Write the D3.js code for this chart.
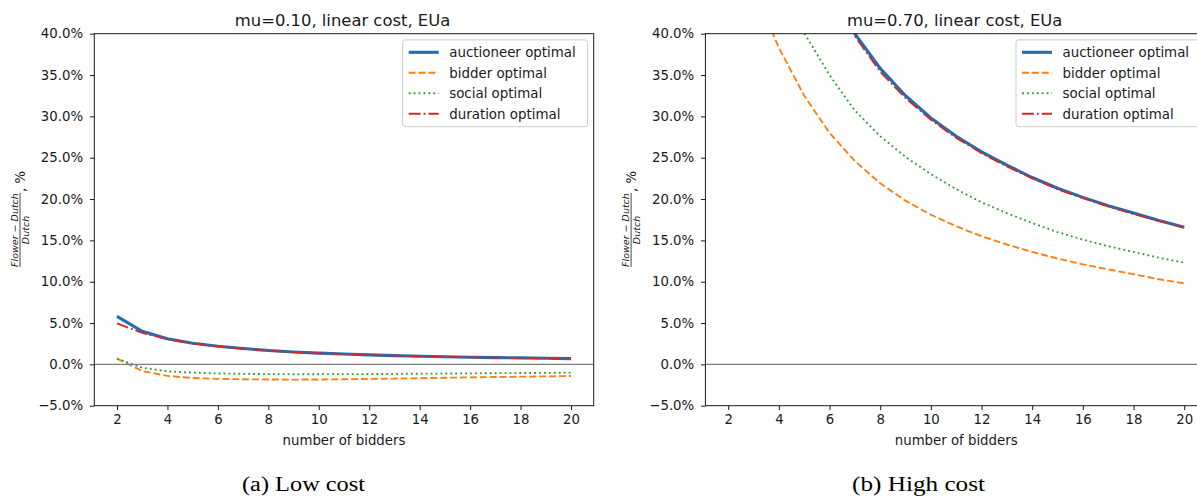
<!DOCTYPE html>
<html>
<head>
<meta charset="utf-8">
<script src="https://cdn.jsdelivr.net/npm/d3@7"></script>
<style>
  body { margin: 0; background: #fff; }
  svg { display: block; font-family: "DejaVu Sans", sans-serif; }
</style>
</head>
<body>
<svg id="chart" width="1197" height="496"></svg>
<script>
const bidders = [2, 3, 4, 5, 6, 7, 8, 9, 10, 11, 12, 13, 14, 15, 16, 17, 18, 19, 20]
const xTicks = [2, 4, 6, 8, 10, 12, 14, 16, 18, 20]
const yTicks = [-5, 0, 5, 10, 15, 20, 25, 30, 35, 40]

const lowAuctioneer = [5.8, 4.0, 3.1, 2.55, 2.2, 1.92, 1.68, 1.5, 1.36, 1.25, 1.15, 1.06, 0.99, 0.93, 0.87, 0.82, 0.78, 0.74, 0.7]
const lowBidder = [0.7, -0.8, -1.4, -1.65, -1.75, -1.8, -1.83, -1.84, -1.83, -1.8, -1.76, -1.72, -1.67, -1.62, -1.57, -1.53, -1.49, -1.45, -1.41]
const lowSocial = [0.7, -0.4, -0.85, -1.0, -1.1, -1.15, -1.18, -1.19, -1.19, -1.18, -1.17, -1.15, -1.13, -1.11, -1.09, -1.07, -1.05, -1.03, -1.0]
const lowDuration = [4.95, 3.8, 3.05, 2.52, 2.17, 1.9, 1.66, 1.48, 1.34, 1.23, 1.13, 1.05, 0.98, 0.92, 0.86, 0.81, 0.77, 0.73, 0.69]

const highAuctioneer = [80, 68, 58, 51, 45.2, 40.0, 35.8, 32.5, 29.8, 27.6, 25.7, 24.1, 22.6, 21.3, 20.2, 19.2, 18.3, 17.4, 16.6]
const highBidder = [55, 45.5, 38.3, 32.5, 28.0, 24.6, 21.9, 19.8, 18.1, 16.7, 15.5, 14.5, 13.6, 12.8, 12.1, 11.5, 10.9, 10.3, 9.8]
const highSocial = [72, 57, 47, 40.1, 35.0, 30.7, 27.6, 25.1, 23.0, 21.2, 19.6, 18.3, 17.1, 16.0, 15.1, 14.3, 13.6, 12.9, 12.3]
const highDuration = [79, 67, 57.5, 50.5, 44.8, 39.7, 35.4, 32.2, 29.6, 27.4, 25.55, 23.95, 22.5, 21.2, 20.1, 19.1, 18.2, 17.35, 16.55]

const seriesNames = ['auctioneer optimal', 'bidder optimal', 'social optimal', 'duration optimal']
const seriesStyles = [
  { color: '#1f6fb4', width: 3.1, dash: null },
  { color: '#ff7f0e', width: 1.86, dash: '6.9,3' },
  { color: '#2ca02c', width: 1.86, dash: '1.86,3.07' },
  { color: '#d62728', width: 1.86, dash: '11.9,3,1.86,3' }
]

const svg = d3.select('#chart')
svg.append('rect').attr('width', 1197).attr('height', 496).attr('fill', '#fff')

const plotTop = 33.7
const plotBottom = 405.7
const ink = '#1a1a1a'
const tickFont = '13.3px'

function drawPanel (opts) {
  const x = d3.scaleLinear().domain([1.1, 20.9]).range([opts.left, opts.right])
  const y = d3.scaleLinear().domain([-5, 40]).range([plotBottom, plotTop])
  const g = svg.append('g')

  g.append('clipPath').attr('id', opts.id)
    .append('rect')
    .attr('x', opts.left).attr('y', plotTop)
    .attr('width', opts.right - opts.left).attr('height', plotBottom - plotTop)

  const plot = g.append('g').attr('clip-path', `url(#${opts.id})`)

  const line = d3.line()
    .x((d, i) => x(bidders[i]))
    .y((d) => y(d))

  opts.series.forEach((values, i) => {
    const s = seriesStyles[i]
    plot.append('path')
      .datum(values)
      .attr('d', line)
      .attr('fill', 'none')
      .attr('stroke', s.color)
      .attr('stroke-width', s.width)
      .attr('stroke-dasharray', s.dash)
  })

  plot.append('line')
    .attr('x1', opts.left).attr('x2', opts.right)
    .attr('y1', y(0)).attr('y2', y(0))
    .attr('stroke', '#808080')
    .attr('stroke-width', 1.3)

  const xAxis = g.append('g')
    .attr('transform', `translate(0,${plotBottom})`)
    .call(d3.axisBottom(x).tickValues(xTicks).tickSize(4.4).tickPadding(4).tickFormat(d3.format('d')))
  const yAxis = g.append('g')
    .attr('transform', `translate(${opts.left},0)`)
    .call(d3.axisLeft(y).tickValues(yTicks).tickSize(4.4).tickPadding(6.8).tickFormat((d) => d.toFixed(1) + '%'))

  ;[xAxis, yAxis].forEach((a) => {
    a.select('.domain').remove()
    a.selectAll('line').attr('stroke', ink).attr('stroke-width', 1)
    a.selectAll('text')
      .attr('fill', ink)
      .style('font-size', tickFont)
      .style('font-family', '"DejaVu Sans", sans-serif')
      .text(function () { return d3.select(this).text().replace('-', '\u2212') })
  })

  g.append('rect')
    .attr('x', opts.left).attr('y', plotTop)
    .attr('width', opts.right - opts.left).attr('height', plotBottom - plotTop)
    .attr('fill', 'none')
    .attr('stroke', ink)
    .attr('stroke-width', 1)

  const mid = (opts.left + opts.right) / 2
  g.append('text')
    .attr('x', mid - 1.5).attr('y', 25.5)
    .attr('text-anchor', 'middle')
    .attr('fill', ink)
    .style('font-size', '16.4px')
    .text(opts.title)

  g.append('text')
    .attr('x', mid).attr('y', 445)
    .attr('text-anchor', 'middle')
    .attr('fill', ink)
    .style('font-size', tickFont)
    .text('number of bidders')

  // y label: fraction rendered by hand, rotated
  const lab = g.append('g')
    .attr('transform', `translate(${opts.left - 94.3},220) rotate(-90)`)
  lab.append('text')
    .attr('x', -10).attr('y', 17.8)
    .attr('text-anchor', 'middle')
    .attr('fill', ink)
    .style('font-size', '9.5px')
    .style('font-style', 'italic')
    .text('Flower \u2212 Dutch')
  lab.append('line')
    .attr('x1', -47).attr('x2', 27)
    .attr('y1', 20).attr('y2', 20)
    .attr('stroke', ink).attr('stroke-width', 0.8)
  lab.append('text')
    .attr('x', -10).attr('y', 28.6)
    .attr('text-anchor', 'middle')
    .attr('fill', ink)
    .style('font-size', '9.5px')
    .style('font-style', 'italic')
    .text('Dutch')
  lab.append('text')
    .attr('x', 28).attr('y', 24.5)
    .attr('fill', ink)
    .style('font-size', tickFont)
    .text(', %')

  // legend
  const lw = 184.8
  const lx = opts.right - 6.2 - lw
  const legend = g.append('g')
  legend.append('rect')
    .attr('x', lx).attr('y', 39.9)
    .attr('width', lw).attr('height', 86.8)
    .attr('rx', 2.5)
    .attr('fill', '#fff').attr('fill-opacity', 0.8)
    .attr('stroke', '#cccccc').attr('stroke-width', 1)
  seriesNames.forEach((name, i) => {
    const s = seriesStyles[i]
    const ry = 52.3 + i * 20.5
    legend.append('line')
      .attr('x1', lx + 6).attr('x2', lx + 36)
      .attr('y1', ry).attr('y2', ry)
      .attr('stroke', s.color)
      .attr('stroke-width', s.width)
      .attr('stroke-dasharray', s.dash)
    legend.append('text')
      .attr('x', lx + 46.5).attr('y', ry + 4.8)
      .attr('fill', ink)
      .style('font-size', '13.4px')
      .text(name)
  })

  svg.append('text')
    .attr('x', opts.captionX).attr('y', 490.5)
    .attr('text-anchor', 'middle')
    .attr('fill', '#000')
    .attr('textLength', opts.captionWidth)
    .attr('lengthAdjust', 'spacingAndGlyphs')
    .style('font-family', '"Liberation Serif", serif')
    .style('font-size', '20px')
    .text(opts.caption)
}

drawPanel({
  id: 'clip-low',
  left: 94.3,
  right: 593.7,
  title: 'mu=0.10, linear cost, EUa',
  caption: '(a) Low cost',
  captionX: 303.5,
  captionWidth: 123,
  series: [lowAuctioneer, lowBidder, lowSocial, lowDuration]
})

drawPanel({
  id: 'clip-high',
  left: 705.4,
  right: 1207,
  title: 'mu=0.70, linear cost, EUa',
  caption: '(b) High cost',
  captionX: 918.5,
  captionWidth: 133,
  series: [highAuctioneer, highBidder, highSocial, highDuration]
})
</script>
</body>
</html>
